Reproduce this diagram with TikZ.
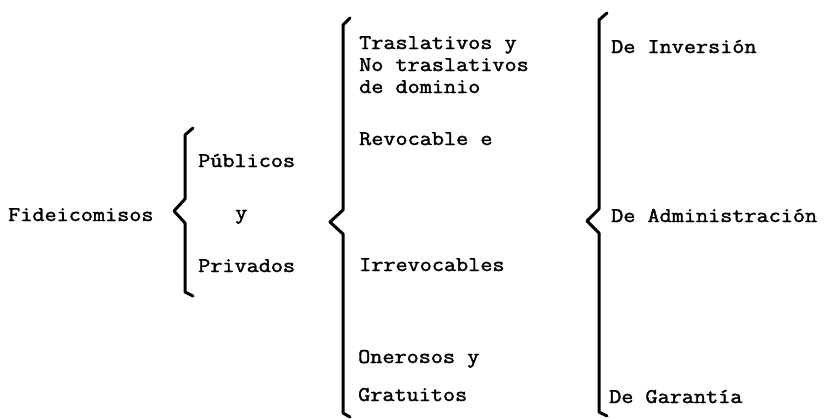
\documentclass[tikz,border=0pt]{standalone}
\usepackage{graphicx}
\usepackage{fontspec}
\newfontfamily\twfont{Latin Modern Mono}[FakeBold=1.6]
\tikzset{
  lbl/.style={anchor=base west, inner sep=0pt, font=\fontsize{21}{24}\twfont},
  bracepath/.style={line width=3pt, line cap=round, line join=round}
}
\newcommand\tw[1]{\scalebox{1.12}[1]{#1}}
% #1 x of line, #2 top y, #3 tip x, #4 tip y, #5 bottom y, #6 curl dx
\newcommand\drawmybrace[6]{%
  \draw[bracepath] ({#1+#6},{#2-7}) -- (#1,#2) -- (#1,{#4-12}) -- (#3,#4) -- (#1,{#4+12}) -- (#1,#5) -- ({#1+#6},{#5+4});
}
\begin{document}
\begin{tikzpicture}[x=1pt,y=-1pt]
\useasboundingbox (0,0) rectangle (827,420);
% column 0
\node[lbl] (fid) at (8,221) {\tw{Fideicomisos}};
% brace 1
\drawmybrace{185}{135}{174}{211}{292}{8}
\node[lbl] (pub) at (198,167) {\tw{Públicos}};
\node[lbl] (y1) at (235,219) {\tw{y}};
\node[lbl] (pri) at (198,272) {\tw{Privados}};
% brace 2
\drawmybrace{343}{25}{330}{222}{413}{7}
\node[lbl] (tra) at (359,49) {\tw{Traslativos y}};
\node[lbl] (notr) at (359,71) {\tw{No traslativos}};
\node[lbl] (dom) at (359,93) {\tw{de dominio}};
\node[lbl] (rev) at (359,145) {\tw{Revocable e}};
\node[lbl] (irr) at (359,271) {\tw{Irrevocables}};
\node[lbl] (one) at (358,363) {\tw{Onerosos y}};
\node[lbl] (gra) at (358,401) {\tw{Gratuitos}};
% brace 3
\drawmybrace{599}{20}{587}{221}{412}{8}
\node[lbl] (inv) at (611,53) {\tw{De Inversión}};
\node[lbl] (adm) at (611,222) {\tw{De Administración}};
\node[lbl] (gar) at (609,403) {\tw{De Garantía}};
\end{tikzpicture}
\end{document}
